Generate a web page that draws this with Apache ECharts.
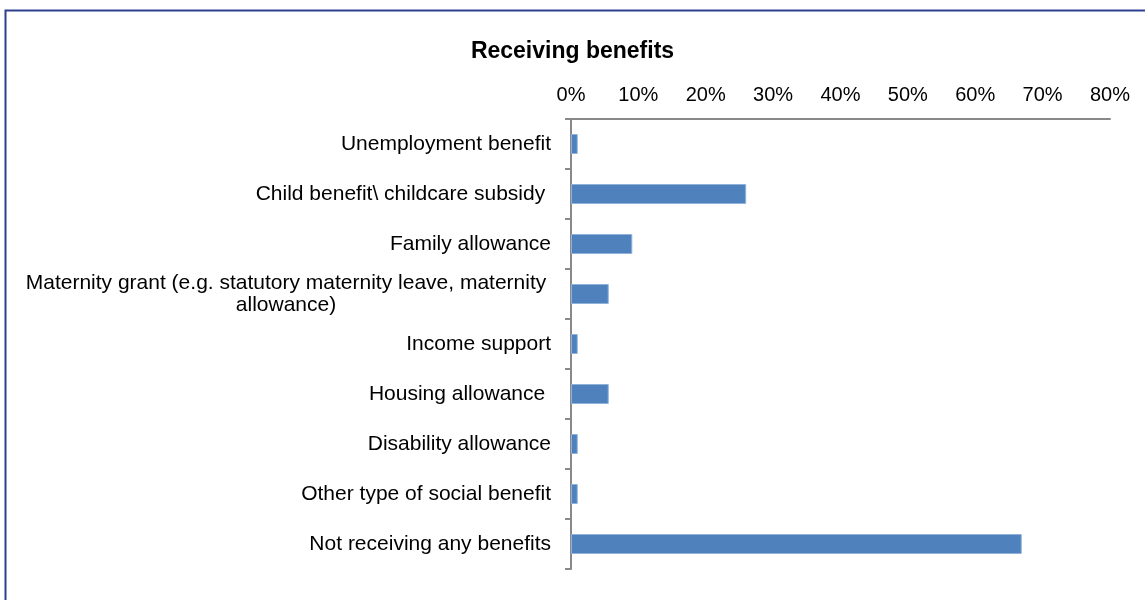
<!DOCTYPE html>
<html>
<head>
<meta charset="utf-8">
<title>Receiving benefits</title>
<script src="https://cdn.jsdelivr.net/npm/echarts@6/dist/echarts.min.js"></script>
<style>
  html, body { margin: 0; padding: 0; background: #ffffff; }
  #chart { width: 1145px; height: 600px; }
</style>
</head>
<body>
<div id="chart"></div>
<script>
// Benefit categories, top to bottom
const categories = [
  'Unemployment benefit',
  'Child benefit\\ childcare subsidy ',
  'Family allowance',
  'Maternity grant (e.g. statutory maternity leave, maternity\nallowance)',
  'Income support',
  'Housing allowance ',
  'Disability allowance',
  'Other type of social benefit',
  'Not receiving any benefits'
];

// Share of respondents receiving each benefit (%)
const shares = [1.0, 26.0, 9.1, 5.6, 1.0, 5.6, 1.0, 1.0, 66.9];

// Percent axis ticks
const axisMin = 0;
const axisMax = 80;
const axisStep = 10;

const chart = echarts.init(document.getElementById('chart'), null, { renderer: 'canvas' });

const font = '"Liberation Sans", Arial, sans-serif';

chart.setOption({
  backgroundColor: '#ffffff',
  animation: false,
  title: {
    text: 'Receiving benefits',
    left: 'center',
    top: 35,
    textStyle: { fontFamily: font, fontSize: 23, fontWeight: 'bold', color: '#000000' }
  },
  graphic: [{
    type: 'rect',
    shape: { x: 5.5, y: 10.5, width: 2000, height: 2000 },
    style: { fill: 'none', stroke: '#2D3F8E', lineWidth: 2 },
    silent: true
  }],
  grid: { left: 571, right: 35, top: 119, bottom: 31, containLabel: false },
  xAxis: {
    type: 'value',
    position: 'top',
    min: axisMin,
    max: axisMax,
    interval: axisStep,
    axisLine: { show: true, lineStyle: { color: '#898989', width: 2 } },
    axisTick: { show: false },
    splitLine: { show: false },
    axisLabel: {
      margin: 14,
      fontFamily: font,
      fontSize: 20,
      color: '#000000',
      formatter: v => v + '%'
    }
  },
  yAxis: {
    type: 'category',
    data: categories,
    inverse: true,
    axisLine: { show: true, lineStyle: { color: '#898989', width: 2 } },
    axisTick: { show: true, interval: 0, length: 6, lineStyle: { color: '#898989', width: 2 } },
    axisLabel: {
      interval: 0,
      margin: 20,
      fontFamily: font,
      fontSize: 21,
      color: '#000000',
      lineHeight: 22,
      formatter: function (v) {
        if (v.indexOf('\n') >= 0) {
          return v.split('\n').map(s => '{c|' + s + '}').join('\n');
        }
        return v;
      },
      rich: {
        c: { width: 530, align: 'center', fontFamily: font, fontSize: 21, color: '#000000', lineHeight: 22 }
      }
    }
  },
  series: [{
    type: 'bar',
    data: shares,
    barWidth: 20,
    itemStyle: { color: '#4F81BD', borderColor: '#8FB1DC', borderWidth: 1 }
  }]
});
</script>
</body>
</html>
